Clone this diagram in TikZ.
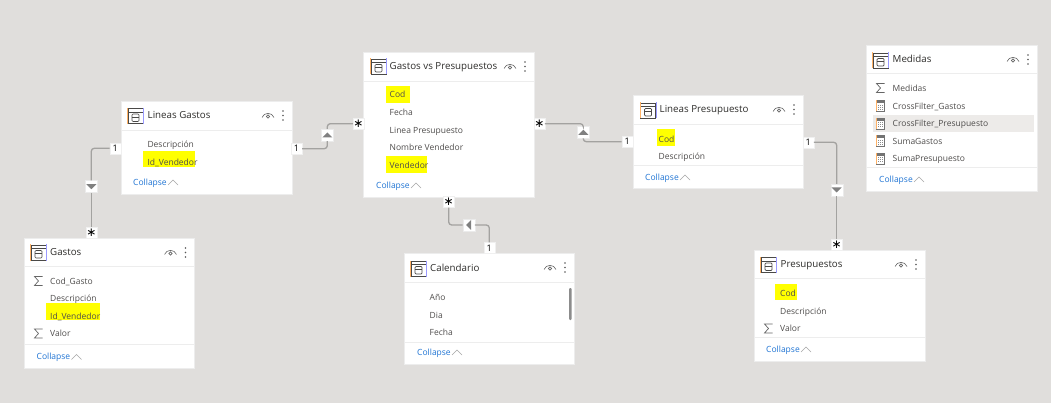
\documentclass[tikz,border=0pt]{standalone}
\usepackage{fontspec}
\setmainfont{Open Sans}
\newfontfamily\symfont{DejaVu Sans}
\definecolor{canvas}{HTML}{E0DEDC}
\definecolor{rowhi}{HTML}{EDEBE9}
\definecolor{fieldtxt}{HTML}{4F4D4C}
\definecolor{titletxt}{HTML}{2E2D2B}
\definecolor{linktxt}{HTML}{1F74D4}
\definecolor{connline}{HTML}{A3A2A0}
\definecolor{icondark}{HTML}{4A4947}
\definecolor{hilite}{HTML}{FFFF00}
\newcount\txtcount
\tikzset{
  x=1pt,y=-1pt,
  card/.style={fill=white,draw=black!7,line width=.5pt,anchor=north west,inner sep=0pt,outer sep=0pt},
  sepline/.style={draw=black!7,line width=.7pt},
  fieldtext/.style={anchor=mid west,inner sep=0pt,text=fieldtxt,font=\fontsize{8.5}{10}\selectfont},
  titletext/.style={anchor=mid west,inner sep=0pt,text=titletxt,font=\fontsize{9.75}{11}\selectfont},
  linktext/.style={anchor=mid west,inner sep=0pt,text=linktxt,font=\fontsize{8.5}{10}\selectfont},
  badge/.style={fill=white,draw=black!6,line width=.3pt,inner sep=0pt,minimum width=11pt,minimum height=11pt,text=black,font=\fontsize{9}{10}\selectfont},
  starbadge/.style={badge,font=\symfont\fontsize{12}{12}\selectfont},
  toggle/.style={fill=white,draw=black!8,line width=.4pt,inner sep=0pt,minimum width=12pt,minimum height=12pt},
  conn/.style={draw=connline,line width=1.3pt,rounded corners=3pt},
  tri/.style={fill=black!50,draw=none},
  hl/.style={fill=hilite,draw=none}
}
\newcommand{\cardbox}[6]{%
  \pgfmathsetmacro{\cw}{#4-#2}\pgfmathsetmacro{\ch}{#5-#3}%
  \node[card,minimum width=\cw pt,minimum height=\ch pt] (#1) at (#2,#3) {};
  \draw[sepline] (#2,#6) -- (#4,#6);
  \begin{scope}[shift={(#4-24,#3+14.5)},draw=black!60,line width=.6pt]
    \draw (-6,2) .. controls (-4,-3.5) and (4,-3.5) .. (6,2);
    \draw (0,1) circle (1.6);
  \end{scope}
  \foreach \dy in {-4.5,0,4.5}{\fill[black!65] (#4-9,#3+14.5+\dy) circle (.8);}
}
\newcommand{\footline}[3]{\draw[sepline] (#1,#3) -- (#2,#3);}
\newcommand{\tableicon}[2]{%
  \begin{scope}[shift={(#1,#2)}]
    \draw[draw=icondark,line width=.9pt,fill=white] (-7.5,-7.5) rectangle (7.5,7.5);
    \draw[draw=icondark,line width=.9pt] (-7.5,-4) -- (7.5,-4);
    \draw[draw=icondark,line width=.7pt,rounded corners=1pt] (-3.5,-2) rectangle (3.5,5.5);
    \draw[draw=icondark,line width=.6pt] (-3.5,1) -- (3.5,1);
    \draw[draw=orange!60,line width=.5pt] (-8,-8) -- (-8,8);
    \draw[draw=blue!40,line width=.5pt] (8,-8) -- (8,8);
  \end{scope}}
\newcommand{\sigmaicon}[2]{%
  \draw[draw=black!60,line width=.7pt,line join=miter] (#1+4,#2-4.5) -- (#1-4,#2-4.5) -- (#1,#2) -- (#1-4,#2+4.5) -- (#1+4,#2+4.5);}
\newcommand{\calcicon}[2]{%
  \begin{scope}[shift={(#1,#2)}]
    \draw[draw=black!55,line width=.6pt,fill=white] (-4,-5.5) rectangle (4,5.5);
    \fill[black!55] (-4,-5.5) rectangle (4,-2.8);
    \foreach \px in {-2,0,2}{\foreach \py in {-.8,1.2,3.2}{\fill[black!45] (\px-.45,\py-.45) rectangle (\px+.45,\py+.45);}}
    \draw[draw=orange!60,line width=.4pt] (-4.6,-5.5) -- (-4.6,5.5);
  \end{scope}}
\newcommand{\fld}[3]{\global\advance\txtcount by 1 \node[fieldtext] (txt\the\txtcount) at (#1,#2) {#3};}
\newcommand{\ttl}[3]{\global\advance\txtcount by 1 \node[titletext] (txt\the\txtcount) at (#1,#2) {#3};}
\newcommand{\collapse}[2]{\global\advance\txtcount by 1 \node[linktext] (txt\the\txtcount) at (#1,#2) {Collapse};
  \draw[draw=black!35,line width=.5pt] (#1+35,#2+2.5) -- (#1+40,#2-2.5) -- (#1+45,#2+2.5);}
\newcommand{\hlrect}[4]{\fill[hl] (#1,#2) rectangle (#3,#4);}
\begin{document}
\begin{tikzpicture}
\fill[canvas] (0,0) rectangle (1051,403);
\useasboundingbox (0,0) rectangle (1051,403);

% cards
\cardbox{lg}{121}{101}{292}{194}{130}
\cardbox{ga}{24}{238}{194.5}{368}{266}
\footline{24}{194.5}{344}
\cardbox{gp}{363}{52}{534}{197}{81}
\cardbox{ca}{404}{253}{574}{364}{282}
\footline{404}{574}{342}
\cardbox{lp}{633}{95}{803}{188}{124}
\footline{633}{803}{165}
\cardbox{me}{866}{45}{1037}{191}{73}
\footline{866}{1037}{167}
\cardbox{pr}{754}{250}{925}{361}{278}
\footline{754}{925}{337}

% highlighted row and highlights
\fill[rowhi] (873,115) rectangle (1034,132);
\hlrect{143}{151}{195}{167}
\hlrect{46}{303}{100}{320}
\hlrect{386}{86}{410}{103}
\hlrect{386}{156}{427}{173}
\hlrect{657}{129}{675}{146}
\hlrect{775}{284}{797}{300}

% Lineas Gastos
\tableicon{135.5}{116}
\ttl{147.5}{115.5}{Lineas Gastos}
\fld{147.3}{144.7}{Descripción}
\fld{147.3}{162.5}{Id\_Vendedor}
\collapse{133}{182.5}

% Gastos
\tableicon{38.5}{252.5}
\ttl{50}{252.5}{Gastos}
\sigmaicon{38.5}{281}
\fld{50}{281.5}{Cod\_Gasto}
\fld{50}{298.5}{Descripción}
\fld{50}{316.5}{Id\_Vendedor}
\sigmaicon{38.5}{333.5}
\fld{50}{333.5}{Valor}
\collapse{36.5}{357}

% Gastos vs Presupuestos
\tableicon{378.5}{66.5}
\ttl{389.5}{66.5}{Gastos vs Presupuestos}
\fld{389.5}{95}{Cod}
\fld{389.5}{112.5}{Fecha}
\fld{389.5}{131}{Linea Presupuesto}
\fld{389.5}{147.5}{Nombre Vendedor}
\fld{389.5}{165.5}{Vendedor}
\collapse{376}{185.5}

% Calendario
\tableicon{418.5}{268.5}
\ttl{430}{268.5}{Calendario}
\fld{429.5}{297.5}{Año}
\fld{429.5}{315.5}{Dia}
\fld{429.5}{332.5}{Fecha}
\collapse{417}{352.5}
\fill[black!45,rounded corners=1pt] (569,288) rectangle (571.5,320);

% Lineas Presupuesto
\tableicon{648}{110.5}
\ttl{659.5}{109.5}{Lineas Presupuesto}
\fld{658.5}{139.5}{Cod}
\fld{658.5}{156.5}{Descripción}
\collapse{645}{177.5}

% Medidas
\tableicon{880.5}{60.5}
\ttl{892.5}{59.5}{Medidas}
\sigmaicon{880.5}{88}
\fld{892.5}{88.5}{Medidas}
\calcicon{880.5}{106}
\fld{892.5}{106.5}{CrossFilter\_Gastos}
\calcicon{880.5}{123.5}
\fld{892.5}{123.5}{CrossFilter\_Presupuesto}
\calcicon{880.5}{141}
\fld{892.5}{141.5}{SumaGastos}
\calcicon{880.5}{158.5}
\fld{892.5}{158.5}{SumaPresupuesto}
\collapse{879}{179.5}

% Presupuestos
\tableicon{768.5}{265}
\ttl{780.5}{265}{Presupuestos}
\fld{780}{293.5}{Cod}
\fld{780}{311.5}{Descripción}
\sigmaicon{768.5}{328.5}
\fld{780}{328.5}{Valor}
\collapse{766}{349.5}

% badges and toggles
\node[badge] (b1) at (115.3,148.3) {1};
\node[starbadge] (s1) at (91.3,232.3) {∗};
\node[toggle] (t1) at (91.3,186.7) {};
\node[badge] (b2) at (296.5,148.7) {1};
\node[starbadge] (s2) at (358.5,123.7) {∗};
\node[toggle] (t2) at (327.3,135) {};
\node[starbadge] (s3) at (539.3,123.7) {∗};
\node[badge] (b3) at (627.3,141.7) {1};
\node[toggle] (t3) at (583.3,132.3) {};
\node[starbadge] (s4) at (448.7,202) {∗};
\node[badge] (b4) at (489.3,248) {1};
\node[toggle] (t4) at (468.7,225) {};
\node[badge] (b5) at (808.3,142.3) {1};
\node[starbadge] (s5) at (836.7,245) {∗};
\node[toggle] (t5) at (836.7,190) {};

% connectors
\draw[conn] (b1.west) -| (t1.north);
\draw[conn] (t1.south) -- (s1.north);
\draw[conn] (b2.east) -| (t2.south);
\draw[conn] (t2.north) |- (s2.west);
\draw[conn] (s3.east) -| (t3.north);
\draw[conn] (t3.south) |- (b3.west);
\draw[conn] (s4.south) |- (t4.west);
\draw[conn] (t4.east) -| (b4.north);
\draw[conn] (b5.east) -| (t5.north);
\draw[conn] (t5.south) -- (s5.north);

% toggle triangles
\fill[tri] (91.3-5,186.7-2.5) -- (91.3+5,186.7-2.5) -- (91.3,186.7+2.5) -- cycle;
\fill[tri] (327.3-5,135+2.5) -- (327.3+5,135+2.5) -- (327.3,135-2.5) -- cycle;
\fill[tri] (583.3-5,132.3+2.5) -- (583.3+5,132.3+2.5) -- (583.3,132.3-2.5) -- cycle;
\fill[tri] (468.7+2.5,225-5) -- (468.7+2.5,225+5) -- (468.7-2.5,225) -- cycle;
\fill[tri] (836.7-5,190-2.5) -- (836.7+5,190-2.5) -- (836.7,190+2.5) -- cycle;
\end{tikzpicture}
\end{document}
